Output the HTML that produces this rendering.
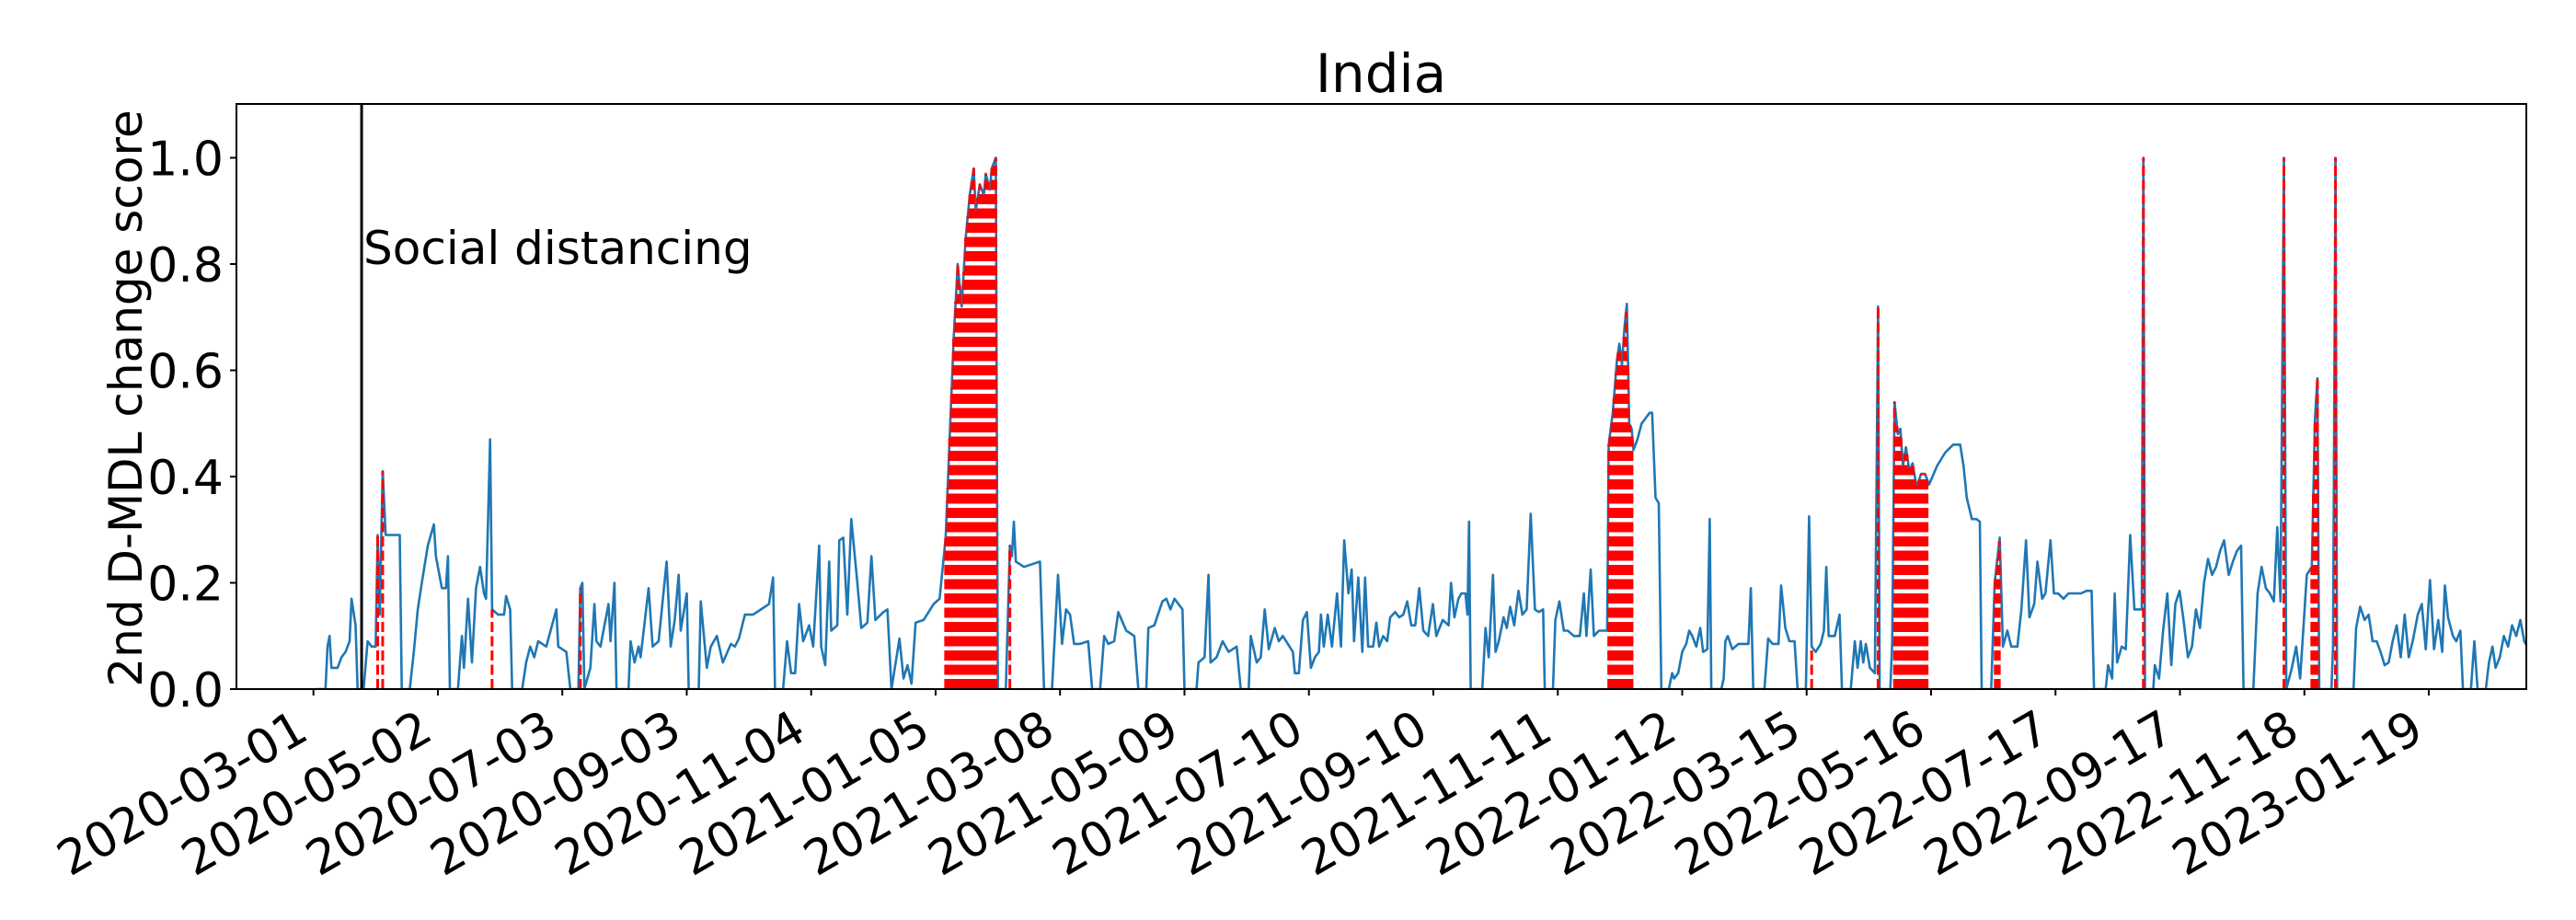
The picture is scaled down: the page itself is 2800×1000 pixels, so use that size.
<!DOCTYPE html>
<html><head><meta charset="utf-8"><style>
html,body{margin:0;padding:0;background:#fff;}
svg{display:block;font-family:"DejaVu Sans","Liberation Sans",sans-serif;}
</style></head><body>
<svg id="chart" width="2800" height="1000" viewBox="0 0 2800 1000" xmlns="http://www.w3.org/2000/svg">
<rect x="0" y="0" width="2800" height="1000" fill="#fff"/>
<text x="1501" y="100" font-size="58" text-anchor="middle">India</text>
<text transform="translate(154,433) rotate(-90)" font-size="50" text-anchor="middle">2nd D-MDL change score</text>
<g id="plot"></g>
</svg>
<script>
const tickLabels = ["2020-03-01","2020-05-02","2020-07-03","2020-09-03","2020-11-04","2021-01-05","2021-03-08","2021-05-09","2021-07-10","2021-09-10","2021-11-11","2022-01-12","2022-03-15","2022-05-16","2022-07-17","2022-09-17","2022-11-18","2023-01-19"];
const tickDays = [0,62,124,186,248,310,372,434,496,558,620,682,744,806,868,930,992,1054];
const yTicks = [0.0,0.2,0.4,0.6,0.8,1.0];
const yTickLabels = ["0.0","0.2","0.4","0.6","0.8","1.0"];
const eventDay = 24;
const eventLabel = "Social distancing";
const eventLabelValue = 0.8;
const days = [
1,6,7,8,9,12,14,16,18,19,
21,22,25,27,29,31,32,33,34.5,36,
43,44,48,50,52,54,57,60,61,64,
66,67,68,72,74,75,77,79,81,83,
85,86,88,89,92,95,96,98,99,104,
106,108,110,112,116,121,122,126,128,132,
133,134,135,138,140,141,143,147,148,150,
151,157,158,160,162,163,167,169,172,176,
178,180,182,183,186,187,192,193,196,198,
201,204,208,210,212,215,219,223,227,229,
230,234,236,238,240,242,244,247,249,252,
253,255,257,258,261,262,264,266,268,271,
273,276,278,280,284,286,288,292,294,296,
298,300,304,309,312,315,319,321,323,325,
327,329,330,332,334,335,337,338,340,341,
345,347,348,349,350,354,358,362,364,368,
371,373,375,377,379,382,386,388,392,394,
396,399,401,405,409,411,415,416,419,423,
425,427,429,433,434,440,441,444,446,447,
450,453,456,460,462,466,467,470,472,474,
476,479,481,483,
488,489,491,493,495,497,499,501,502,503.4,
505.4,507.5,510,512,513.6,515.7,517.3,518.5,520.6,522.6,
524,525.5,528,529.6,531,533,535,536.5,539,541,
543,545,547,549,551,553,555.4,557.8,559.5,562.7,
565.6,566.8,568.5,570.5,572,574,575,575.8,576.6,582.4,
584,585.6,587.7,589,590.6,593,594.6,596.3,598.3,600.4,
602.4,604.5,606.5,608.6,610.6,612.7,613.5,617.6,618.8,620.8,
623,625,628,631,633,634.3,636.4,638,640.5,643,
644.6,645.4,647.4,649.5,650.7,652,653.2,654.4,655.6,656.8,
657.7,659.7,661.8,663.8,665.8,667,668.7,670.3,671.6,675.3,
677,678,680,682,684,685.5,687,689,691,692.4,
694.5,695.7,696.5,701.5,702.7,703.5,704.7,707,710,715,
716.2,717.4,723,724.8,727,730,731.3,733.4,735.4,738,
739.5,743.6,745.2,746.5,748.5,751,752.6,753.8,755,758,
760.4,761.6,766,768,769.4,771,772.2,773.5,775.5,778,
779.6,780.4,785.7,786.6,787.8,789.4,790.7,792,793.5,795.2,
796.8,798.8,801,803,805,809,813,817,820.5,822.2,
823.8,826.3,828.7,830.3,831.2,836,837.7,840.2,841.8,844,
846,849,851,853.3,855,857.4,859,861.4,863,865.5,
867.2,869.2,872,874.5,878,880.7,883.5,886,887.2,893,
894.2,896.2,897.5,898.7,901,903,905.2,907.3,909.3,911,
911.8,912.6,916.7,917.5,919.6,921.6,923.7,925.7,927.7,929.8,
931.8,934,936,938,940,942,944,946,948,950,
952,954.3,956.4,958.4,960.5,961.7,966.6,968.7,970.7,972.8,
974.8,976.8,978.5,980.1,981.8,983,985.8,987.9,989.9,993.2,
995.7,997.3,998.5,999.4,1005.5,1006.3,1007.5,1008.3,1016.5,1017.8,
1019.8,1022,1024,1026,1028,1030,1032,1034,1036,1038,
1040,1042,1044,1046,1048.5,1050.5,1052.5,1054.6,1056.6,1058.7,
1060.7,1062,1063.6,1066,1067.7,1069.7,1071,1075,1076.7,1078.3,
1082.4,1084,1085.7,1087.3,1089.4,1091.4,1093.5,1095.5,1097.6,1099.6,
1101.6,1103
];
const scores = [
0,0,.08,.10,.04,.04,.06,.07,.09,.17,
.12,0,0,.09,.08,.08,.29,.14,.41,.29,
.29,0,0,.07,.15,.2,.27,.31,.25,.19,
.19,.25,0,0,.10,.04,.17,.05,.19,.23,
.18,.17,.47,.15,.14,.14,.175,.15,0,0,
.05,.08,.06,.09,.08,.15,.08,.07,0,0,
.19,.2,0,.04,.16,.09,.08,.16,.09,.2,
0,0,.09,.05,.08,.06,.19,.08,.09,.24,
.08,.13,.215,.11,.18,0,0,.165,.04,.08,
.1,.05,.085,.08,.095,.14,.14,.15,.16,.21,
0,0,.09,.03,.03,.16,.09,.12,.08,.27,
.08,.045,.24,.11,.12,.28,.285,.14,.32,.2,
.115,.125,.25,.13,.145,.15,0,.095,.02,.045,
.01,.125,.13,.16,.17,.285,.66,.8,.72,.85,
.93,.98,.9,.95,.93,.97,.94,.98,1.0,0,
0,.27,.25,.315,.24,.23,.235,.24,0,0,
.215,.085,.15,.14,.085,.085,.09,0,0,.1,
.085,.09,.145,.11,.10,0,0,.115,.12,.165,
.17,.15,.17,.15,0,0,.05,.06,.215,.05,
.06,.09,.07,.08,0,0,.1,.05,.06,.15,
.075,.115,.09,.1,
.07,.03,.03,.13,.145,.04,.06,.07,.14,.08,
.14,.08,.18,.08,.28,.18,.225,.09,.21,.07,
.21,.08,.08,.125,.08,.10,.09,.135,.145,.135,
.14,.165,.12,.12,.19,.11,.10,.16,.10,.13,
.12,.2,.135,.17,.18,.18,.14,.315,0,0,
.115,.06,.215,.07,.09,.135,.115,.155,.12,.185,
.14,.15,.33,.15,.145,.15,0,0,.13,.165,
.11,.11,.10,.10,.18,.10,.225,.10,.11,.11,
.11,.46,.52,.62,.65,.61,.68,.725,.50,.49,
.45,.47,.50,.51,.52,.52,.36,.35,0,0,
.03,.02,.03,.07,.085,.11,.10,.08,.115,.07,
.075,.32,0,0,.02,.09,.10,.075,.085,.085,
.19,0,0,.095,.085,.085,.195,.115,.09,.09,
0,0,.325,.08,.07,.085,.11,.23,.10,.10,
.14,0,0,.09,.04,.09,.05,.085,.04,.03,
.72,0,0,.085,.54,.48,.49,.42,.455,.41,
.425,.38,.405,.405,.385,.42,.445,.46,.46,.42,
.36,.32,.32,.315,0,0,.2,.285,.08,.11,
.08,.08,.15,.28,.135,.16,.24,.17,.18,.28,
.18,.18,.17,.18,.18,.18,.185,.185,0,0,
.045,.02,.18,.05,.08,.075,.29,.15,.15,.15,
1.0,0,0,.045,.02,.11,.18,.045,.16,.185,
.13,.06,.08,.15,.115,.2,.245,.215,.23,.26,
.28,.215,.24,.26,.27,0,0,.18,.23,.19,
.18,.165,.305,.165,1.0,0,.04,.08,.02,.215,
.23,.51,.585,0,0,.08,1.0,0,0,.115,
.155,.13,.14,.09,.09,.07,.045,.05,.09,.12,
.06,.14,.06,.09,.14,.16,.075,.205,.075,.13,
.07,.195,.135,.10,.09,.11,0,0,.09,0,
0,.05,.08,.04,.06,.10,.08,.12,.10,.13,
.09,.08
];
const alarmDays = [32,34.5,89,133,
315,316,317,318,319,320,321,322,323,324,325,326,327,328,329,330,331,332,333,334,335,336,337,338,339,340,
347,
645.4,646,647,648,649,650,651,652,653,654,655,656,657,
746.5,779.6,
787.8,789,790,791,792,793,794,795,796,797,798,799,800,801,802,803,804,
838,839,840,
911.8,981.8,
995.7,996.5,997.3,998.5,
1007.5];

const NS = "http://www.w3.org/2000/svg";
const X0 = 340.7, PXD = 2.1815;
const AX = {left:257, right:2746, top:113, bottom:749};
const Y_PER = 577.5;
function xScale(d){ return X0 + d*PXD; }
function yScale(v){ return AX.bottom - v*Y_PER; }
function mk(tag, attrs){ const e=document.createElementNS(NS,tag); for(const k in attrs) e.setAttribute(k,attrs[k]); return e; }
function interp(d){
  const n=Math.min(days.length,scores.length);
  if(d<=days[0]) return scores[0];
  for(let i=1;i<n;i++){ if(days[i]>=d){ const t=(d-days[i-1])/(days[i]-days[i-1]||1); return scores[i-1]+t*(scores[i]-scores[i-1]); } }
  return scores[n-1];
}
const plot=document.getElementById('plot');
const svg=document.getElementById('chart');
const defs=mk('defs',{});
const cp=mk('clipPath',{id:'clip'});
cp.appendChild(mk('rect',{x:AX.left,y:AX.top,width:AX.right-AX.left,height:AX.bottom-AX.top}));
defs.appendChild(cp); svg.insertBefore(defs, svg.firstChild);

const n=Math.min(days.length,scores.length);
let dstr='';
for(let i=0;i<n;i++){ dstr+=(i?'L':'M')+xScale(days[i]).toFixed(1)+','+yScale(scores[i]).toFixed(1); }
const line=mk('path',{d:dstr,fill:'none',stroke:'#1f77b4','stroke-width':2.6,'stroke-linejoin':'round','clip-path':'url(#clip)'});


plot.appendChild(line);

const ag=mk('g',{});


plot.appendChild(ag);
alarmDays.forEach(d=>{
  const v=interp(d);
  const l=mk('line',{x1:xScale(d),x2:xScale(d),y1:yScale(0),y2:yScale(v),stroke:'#ff0000','stroke-width':3,'stroke-dasharray':'11,4.5'});
  
  
  ag.appendChild(l);
});

const ev=mk('line',{x1:xScale(eventDay),x2:xScale(eventDay),y1:AX.top,y2:AX.bottom,stroke:'#000','stroke-width':3});


plot.appendChild(ev);
const et=mk('text',{x:xScale(eventDay)+2,y:yScale(eventLabelValue),'font-size':50});
et.textContent=eventLabel;


plot.appendChild(et);

const fr=mk('rect',{x:AX.left,y:AX.top,width:AX.right-AX.left,height:AX.bottom-AX.top,fill:'none',stroke:'#000','stroke-width':2});


plot.appendChild(fr);

yTicks.forEach((v,i)=>{
  const y=yScale(v);
  const t=mk('line',{x1:AX.left-7,x2:AX.left,y1:y,y2:y,stroke:'#000','stroke-width':2});
  
  
  plot.appendChild(t);
  const tx=mk('text',{x:243,y:y+19,'font-size':52,'text-anchor':'end'});
  tx.textContent=yTickLabels[i];
  
  
  plot.appendChild(tx);
});
tickDays.forEach((d,i)=>{
  const x=xScale(d);
  const t=mk('line',{x1:x,x2:x,y1:AX.bottom,y2:AX.bottom+7,stroke:'#000','stroke-width':2});
  
  
  plot.appendChild(t);
  const px=x-3, py=802;
  const tx=mk('text',{x:px,y:py,'font-size':52,'text-anchor':'end',transform:'rotate(-30 '+px+' '+py+')'});
  tx.textContent=tickLabels[i];
  
  
  plot.appendChild(tx);
});
</script>
</body></html>
